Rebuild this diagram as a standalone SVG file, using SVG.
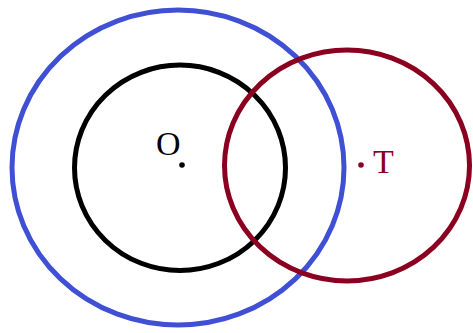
<svg xmlns="http://www.w3.org/2000/svg" width="473" height="333" viewBox="0 0 473 333">
<style>
.c{fill:none;stroke-width:5}
.lbl{font-family:"Liberation Serif",serif;font-size:34px}
</style>
<rect width="473" height="333" fill="#fff"/>
<g id="circle-blue"><ellipse class="c" cx="178" cy="167.5" rx="166" ry="157.5" stroke="#4050D4"/></g>
<g id="circle-black"><ellipse class="c" cx="180" cy="167.8" rx="105.5" ry="102.7" stroke="#000"/></g>
<g id="circle-red"><ellipse class="c" cx="347" cy="165.5" rx="122.5" ry="115.5" stroke="#8B0020"/></g>
<g id="point-O">
<circle cx="182" cy="165" r="2.8" fill="#000"/>
<text class="lbl" x="156" y="155" fill="#000">O</text>
</g>
<g id="point-T">
<circle cx="361" cy="165" r="2.8" fill="#8B0020"/>
<text class="lbl" x="373" y="173" fill="#8B0020">T</text>
</g>
</svg>
